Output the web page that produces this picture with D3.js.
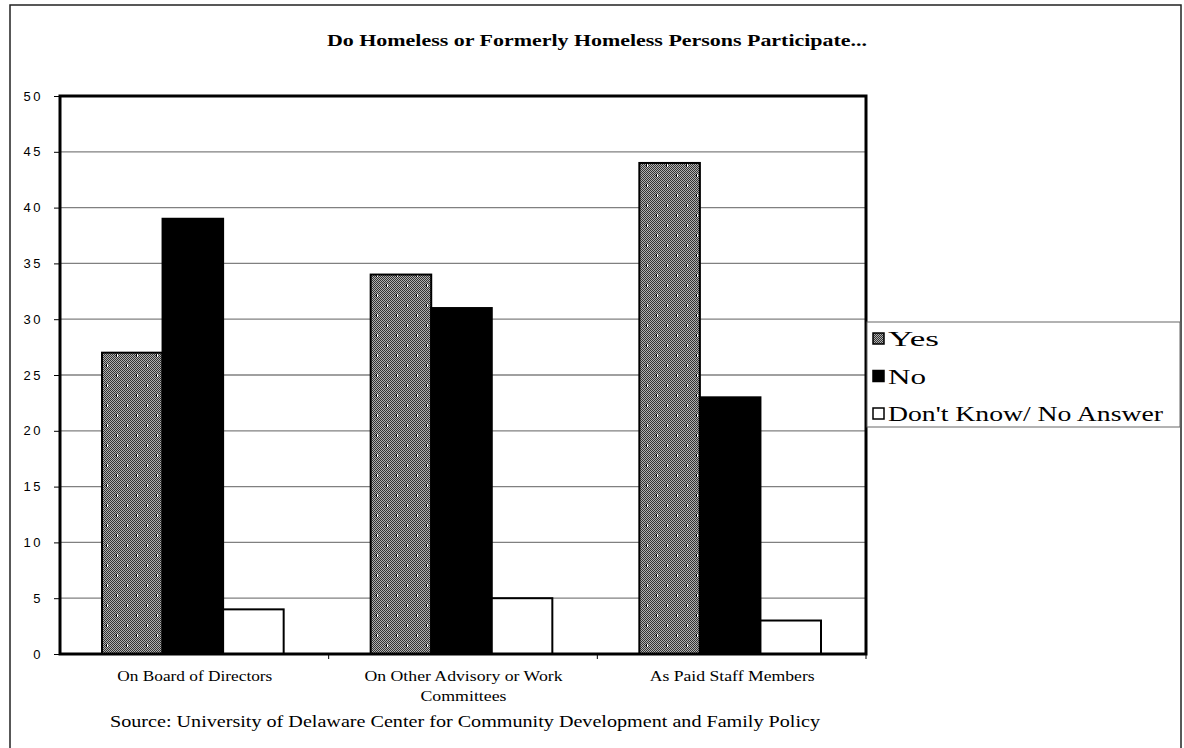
<!DOCTYPE html>
<html>
<head>
<meta charset="utf-8">
<script src="https://cdn.jsdelivr.net/npm/d3@7"></script>
<style>
  body { margin: 0; background: #fff; }
  svg { display: block; }
</style>
</head>
<body>
<svg id="chart" width="1184" height="748"></svg>
<script>
// chart data
var categories = ["On Board of Directors", "On Other Advisory or Work Committees", "As Paid Staff Members"]
var seriesNames = ["Yes", "No", "Don't Know/ No Answer"]
var yesValues = [27, 34, 44]
var noValues = [39, 31, 23]
var dkValues = [4, 5, 3]
var yTicks = [0, 5, 10, 15, 20, 25, 30, 35, 40, 45, 50]

var serif = "'Liberation Serif', 'Times New Roman', serif"
var sans = "'Liberation Sans', Arial, sans-serif"

var svg = d3.select("#chart")
var plot = { left: 60, right: 866, top: 96, bottom: 654 }

// patterns for the "Yes" bars
var defs = svg.append("defs")
var dither = defs.append("pattern")
    .attr("id", "dither").attr("patternUnits", "userSpaceOnUse")
    .attr("width", 2).attr("height", 2)
dither.append("rect").attr("width", 2).attr("height", 2).attr("fill", "#b0b0b0")
dither.append("rect").attr("width", 1).attr("height", 1).attr("fill", "#333")
dither.append("rect").attr("x", 1).attr("y", 1).attr("width", 1).attr("height", 1).attr("fill", "#333")

var dots = defs.append("pattern")
    .attr("id", "dots").attr("patternUnits", "userSpaceOnUse")
    .attr("width", 20).attr("height", 20)
dots.append("rect").attr("x", 6).attr("y", 4).attr("width", 1).attr("height", 3).attr("fill", "#000")
dots.append("rect").attr("x", 7).attr("y", 4).attr("width", 1).attr("height", 3).attr("fill", "#fff")
dots.append("rect").attr("x", 16).attr("y", 14).attr("width", 1).attr("height", 3).attr("fill", "#000")
dots.append("rect").attr("x", 17).attr("y", 14).attr("width", 1).attr("height", 3).attr("fill", "#fff")

// outer frame
svg.append("rect")
    .attr("x", 10).attr("y", 5).attr("width", 1171).attr("height", 760)
    .attr("fill", "none").attr("stroke", "#222").attr("stroke-width", 1.5)

// helper for stretched text
function addText(g, str, x, yPos, size, width, bold) {
    return g.append("text")
        .attr("x", x).attr("y", yPos)
        .attr("text-anchor", "middle")
        .attr("font-family", serif)
        .attr("font-size", size)
        .attr("font-weight", bold ? "bold" : "normal")
        .attr("textLength", width)
        .attr("lengthAdjust", "spacingAndGlyphs")
        .text(str)
}

// title
addText(svg, "Do Homeless or Formerly Homeless Persons Participate...", 597, 46, 16, 540, true)

// scales
var x0 = d3.scaleBand().domain(categories).range([plot.left, plot.right]).paddingInner(0).paddingOuter(0)
var x1 = d3.scaleBand().domain(seriesNames).range([42, x0.bandwidth() - 45]).padding(0)
var y = d3.scaleLinear().domain([0, 50]).range([plot.bottom, plot.top])

// gridlines
svg.append("g").selectAll("line")
    .data(yTicks.filter(d => d > 0 && d < 50))
    .enter().append("line")
    .attr("x1", plot.left).attr("x2", plot.right)
    .attr("y1", d => y(d)).attr("y2", d => y(d))
    .attr("stroke", "#808080").attr("stroke-width", 1.3)

// y axis
var yAxis = svg.append("g")
    .attr("transform", `translate(${plot.left},0)`)
    .call(d3.axisLeft(y).tickValues(yTicks).tickSize(6).tickPadding(11))
yAxis.select(".domain").remove()
yAxis.selectAll("line").attr("stroke", "#000")
yAxis.selectAll("text")
    .attr("font-family", sans)
    .attr("font-size", 13).attr("letter-spacing", 2.5).attr("fill", "#000")

// bars
var series = [
    { name: seriesNames[0], values: yesValues },
    { name: seriesNames[1], values: noValues },
    { name: seriesNames[2], values: dkValues }
]
var bars = []
series.forEach(function (s, si) {
    s.values.forEach(function (v, ci) {
        bars.push({ series: s.name, si: si, cat: categories[ci], value: v })
    })
})

var barG = svg.append("g")
barG.selectAll("rect.bar")
    .data(bars)
    .enter().append("rect")
    .attr("class", "bar")
    .attr("x", d => x0(d.cat) + x1(d.series))
    .attr("y", d => y(d.value))
    .attr("width", x1.bandwidth())
    .attr("height", d => y(0) - y(d.value))
    .attr("fill", d => d.si === 0 ? "url(#dither)" : (d.si === 1 ? "#000" : "#fff"))
    .attr("stroke", "#000").attr("stroke-width", 2)
barG.selectAll("rect.dots")
    .data(bars.filter(d => d.si === 0))
    .enter().append("rect")
    .attr("x", d => x0(d.cat) + x1(d.series) + 1)
    .attr("y", d => y(d.value) + 1)
    .attr("width", x1.bandwidth() - 2)
    .attr("height", d => y(0) - y(d.value) - 2)
    .attr("fill", "url(#dots)")

// plot border
svg.append("rect")
    .attr("x", plot.left).attr("y", plot.top)
    .attr("width", plot.right - plot.left).attr("height", plot.bottom - plot.top)
    .attr("fill", "none").attr("stroke", "#000").attr("stroke-width", 3)

// x ticks at category boundaries
svg.append("g").selectAll("line")
    .data(categories.slice(1).concat(["end"]))
    .enter().append("line")
    .attr("x1", d => d === "end" ? plot.right : x0(d))
    .attr("x2", d => d === "end" ? plot.right : x0(d))
    .attr("y1", plot.bottom).attr("y2", plot.bottom + 5)
    .attr("stroke", "#000")

// category labels (wrapped), with measured widths
var catLines = {
    "On Board of Directors": [["On Board of Directors", 155]],
    "On Other Advisory or Work Committees": [["On Other Advisory or Work", 198], ["Committees", 86]],
    "As Paid Staff Members": [["As Paid Staff Members", 165]]
}
var catG = svg.append("g")
categories.forEach(function (c) {
    var cx = x0(c) + x1("No") + x1.bandwidth() / 2 + 2
    catLines[c].forEach(function (line, i) {
        addText(catG, line[0], cx, 681 + i * 20, 15, line[1], false)
    })
})

// source
addText(svg, "Source: University of Delaware Center for Community Development and Family Policy", 465, 727, 17, 710, false)

// legend
var legend = svg.append("g")
legend.append("rect")
    .attr("x", 867).attr("y", 322).attr("width", 313).attr("height", 105)
    .attr("fill", "#fff").attr("stroke", "#666").attr("stroke-width", 1)
var legendWidths = [51, 38, 275]
var legendItems = legend.selectAll("g.item")
    .data(seriesNames)
    .enter().append("g")
    .attr("transform", (d, i) => `translate(878,${339 + i * 37.5})`)
legendItems.append("rect")
    .attr("x", -5).attr("y", -6).attr("width", 11).attr("height", 11)
    .attr("fill", (d, i) => i === 0 ? "url(#dither)" : (i === 1 ? "#000" : "#fff"))
    .attr("stroke", "#000").attr("stroke-width", 1.5)
legendItems.append("text")
    .attr("x", 10).attr("y", 7)
    .attr("font-family", serif)
    .attr("font-size", 22)
    .attr("textLength", (d, i) => legendWidths[i])
    .attr("lengthAdjust", "spacingAndGlyphs")
    .text(d => d)
</script>
</body>
</html>
